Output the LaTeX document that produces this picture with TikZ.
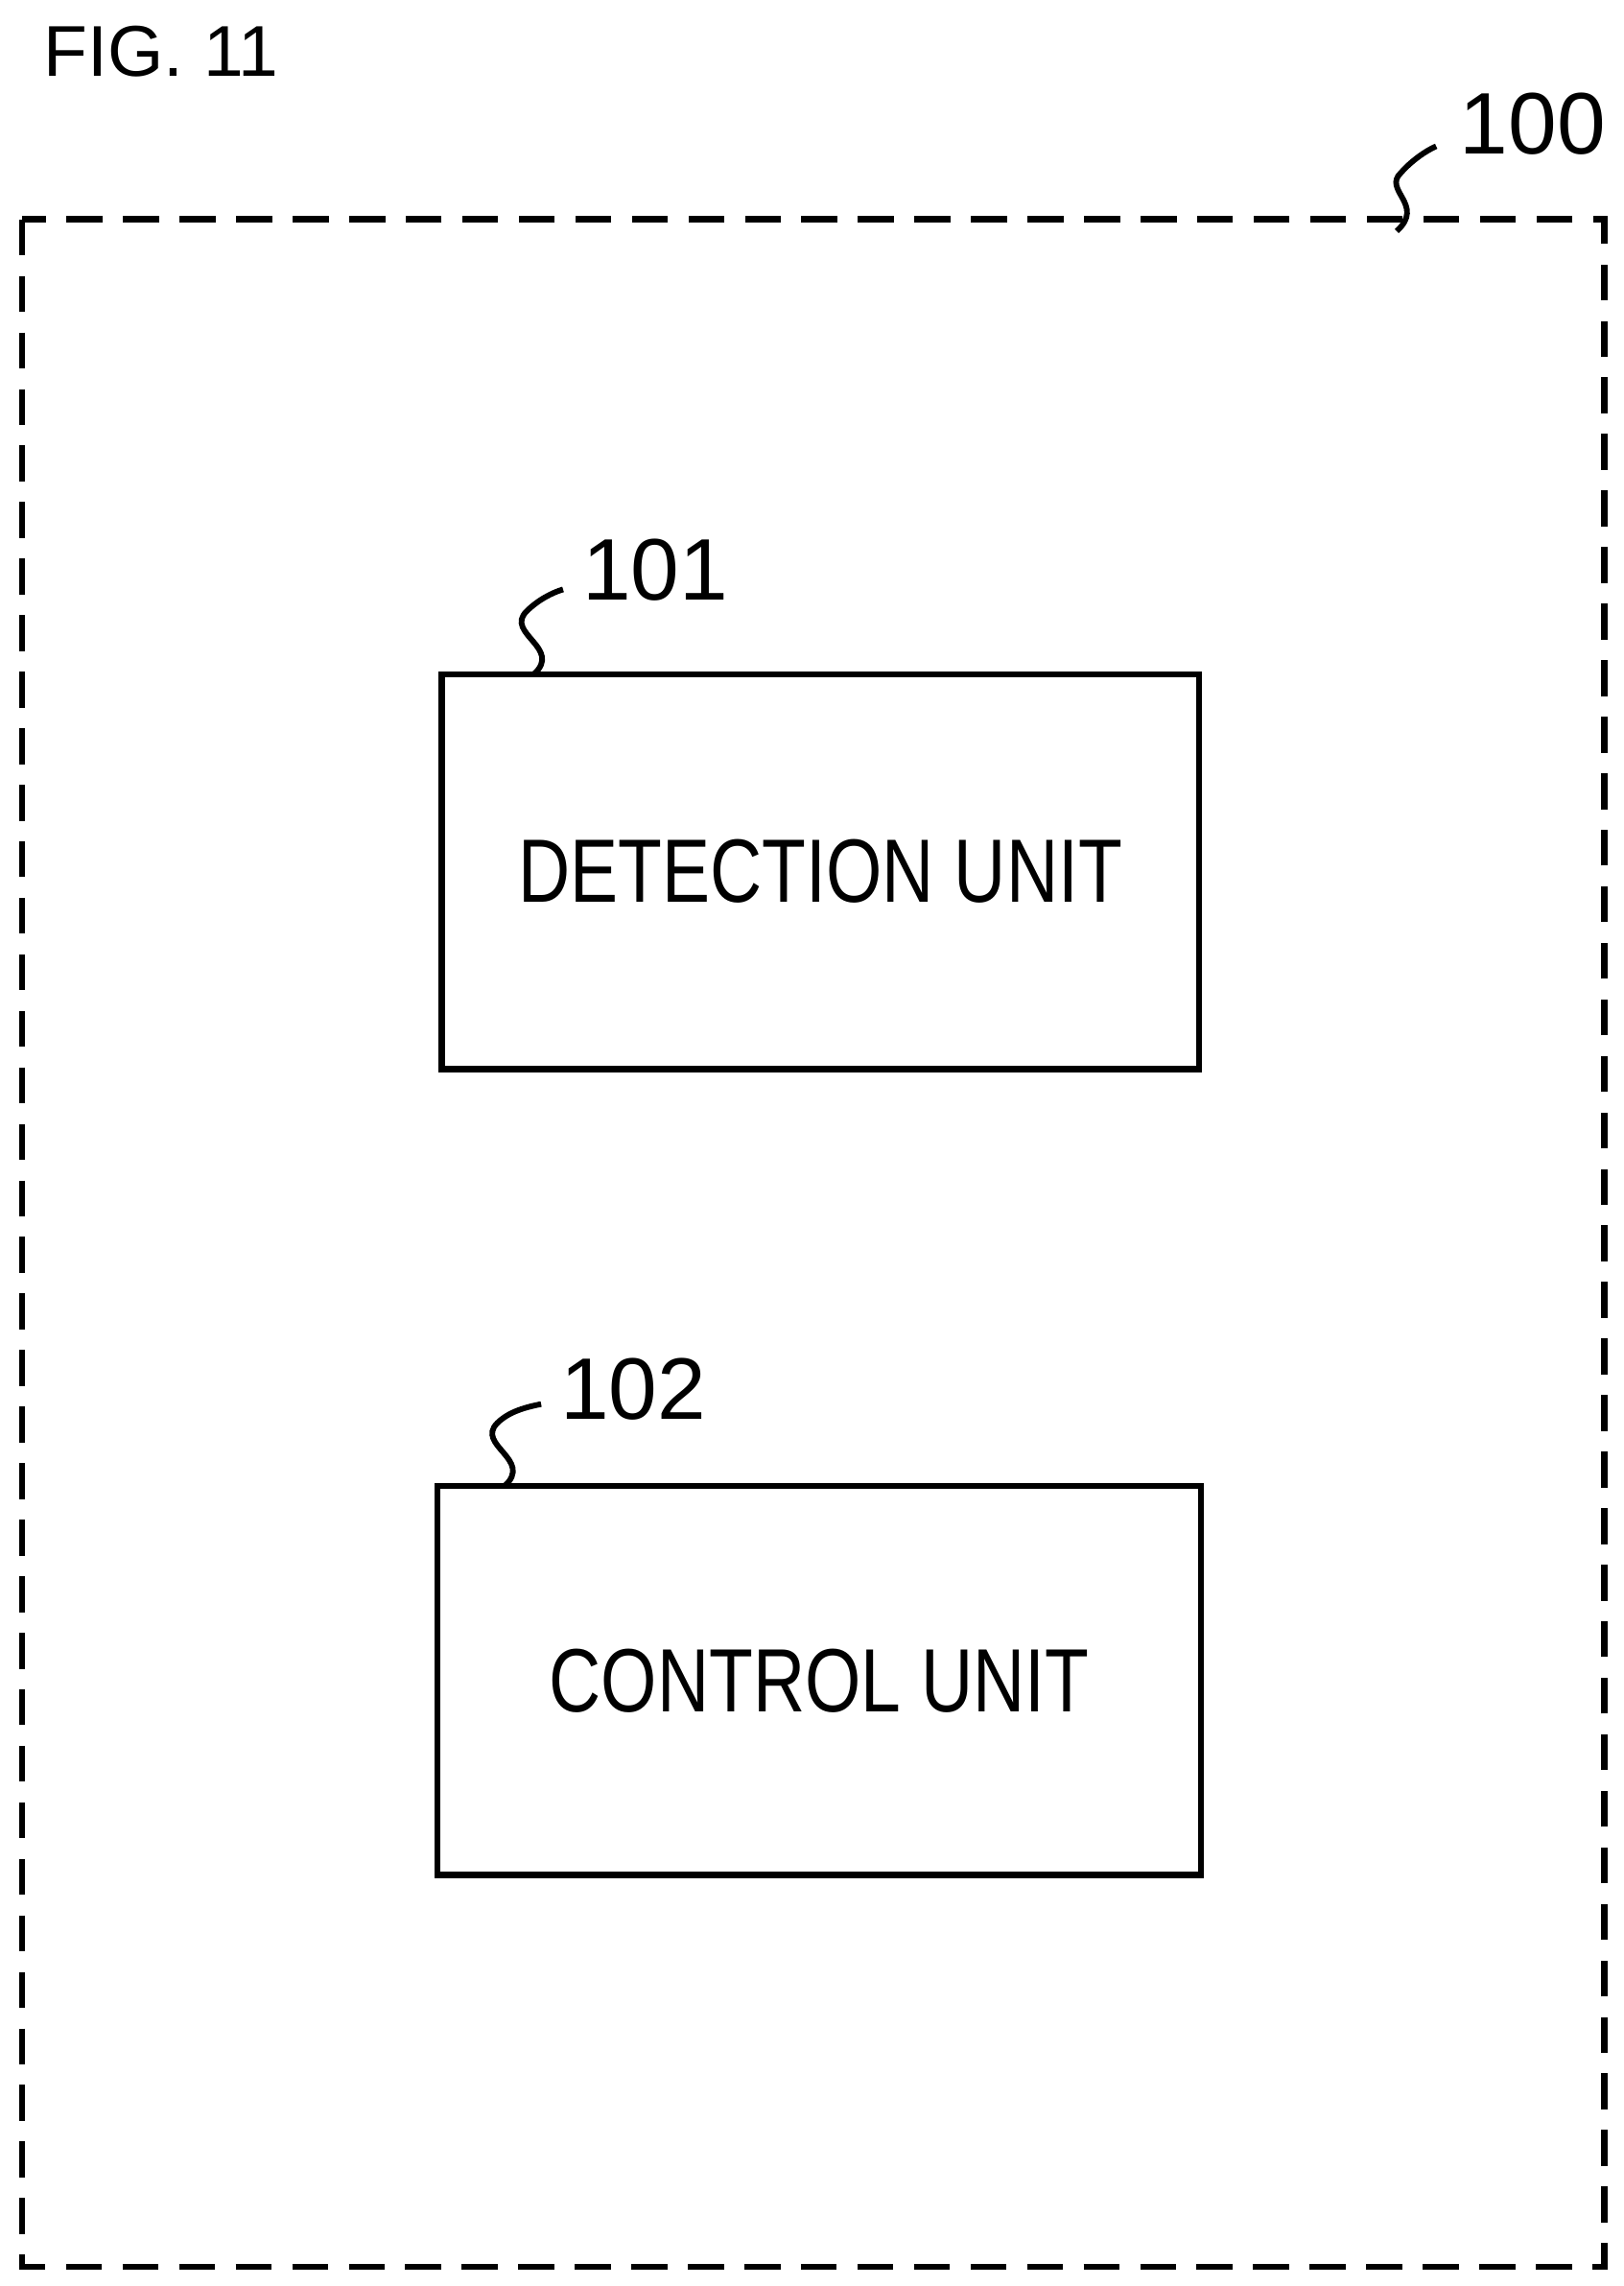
\documentclass[tikz,border=0pt]{standalone}
\usepackage{fontspec}
\setmainfont{Liberation Sans}
\begin{document}
\begin{tikzpicture}[x=0.02cm,y=-0.02cm,
  box/.style={draw,line width=2.4pt},
  lbl/.style={font=\fontsize{34}{38}\selectfont},
  sq/.style={line width=2.2pt}]
\useasboundingbox (0,0) rectangle (1110,1563);
\node[lbl,font=\fontsize{28}{32}\selectfont] (fig) at (110,35) {FIG. 11};
\draw[line width=2.4pt,dash pattern=on 14pt off 8pt] (15,150) rectangle (1097,1550);
\node[box,minimum width=518*0.02cm,minimum height=270*0.02cm] (det) at (561,596) {};
\node[font=\fontsize{35}{40}\selectfont] at (det.center) {\scalebox{0.8}[1]{DETECTION UNIT}};
\node[box,minimum width=522*0.02cm,minimum height=266*0.02cm] (ctl) at (560,1149) {};
\node[font=\fontsize{35}{40}\selectfont] at (ctl.center) {\scalebox{0.8}[1]{CONTROL UNIT}};
\node[lbl] (l100) at (1048,85) {100};
\node[lbl] (l101) at (448,390) {101};
\node[lbl] (l102) at (433,950) {102};
\draw[sq] (955,158) .. controls (975,140) and (945,130) .. (958,118) .. controls (965,110) and (975,103) .. (982,100);
\draw[sq] (365,461) .. controls (385,443) and (345,433) .. (360,418) .. controls (368,410) and (378,405) .. (385,403);
\draw[sq] (345,1016) .. controls (365,998) and (325,988) .. (340,973) .. controls (348,965) and (360,962) .. (370,960);
\end{tikzpicture}
\end{document}
